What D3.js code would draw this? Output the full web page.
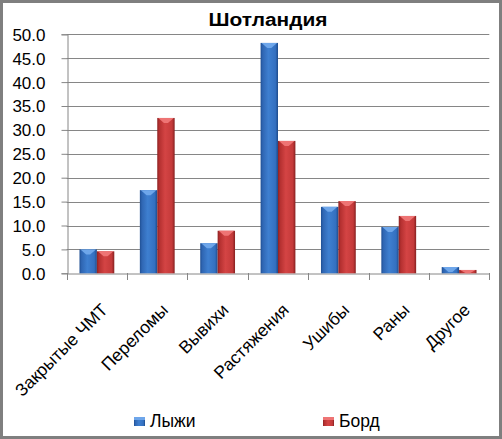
<!DOCTYPE html>
<html><head><meta charset="utf-8">
<script src="https://cdn.jsdelivr.net/npm/d3@7"></script>
<style>body{margin:0;background:#fff}svg{display:block;font-family:"Liberation Sans",Arial,sans-serif}</style>
</head><body><svg id="c" width="502" height="439"></svg>
<script>
const title = "Шотландия";
const categories = ["Закрытые ЧМТ","Переломы","Вывихи","Растяжения","Ушибы","Раны","Другое"];
const seriesNames = ["Лыжи","Борд"];
const skiValues = [5.0, 17.4, 6.3, 48.2, 13.9, 9.7, 1.3];
const boardValues = [4.6, 32.5, 8.9, 27.7, 15.1, 12.0, 0.7];
const yTicks = [0,5,10,15,20,25,30,35,40,45,50];

const svg = d3.select("#c");
const W = 502, H = 439;
const L = 66.7, R = 489.3, T = 34.3, B = 273.3;

const defs = svg.append("defs");
function grad(id, stops){
  const g = defs.append("linearGradient").attr("id", id).attr("x1","0").attr("x2","1").attr("y1","0").attr("y2","0");
  stops.forEach(s => g.append("stop").attr("offset", s[0]).attr("stop-color", s[1]));
}
grad("gBlue", [[0,"#1f4f93"],[0.12,"#2f66b3"],[0.45,"#3e7fd0"],[0.85,"#3470c0"],[1,"#1d4a8a"]]);
grad("gRed", [[0,"#8e2222"],[0.12,"#b43030"],[0.45,"#d44444"],[0.85,"#c43a3a"],[1,"#862020"]]);
const colors = [{fill:"url(#gBlue)", top:"#6ea6ea"}, {fill:"url(#gRed)", top:"#ee7474"}];

svg.append("rect").attr("x",1.5).attr("y",1.5).attr("width",W-3).attr("height",H-3)
  .attr("fill","#fff").attr("stroke","#7f7f7f").attr("stroke-width",3);

svg.append("text").attr("x",268).attr("y",26).attr("text-anchor","middle")
  .attr("font-weight","bold").attr("font-size",18).attr("textLength",119).attr("lengthAdjust","spacingAndGlyphs")
  .text(title);

const x = d3.scaleBand().domain(categories).range([L, R]).paddingInner(0).paddingOuter(0);
const xi = d3.scaleBand().domain(seriesNames).range([0, x.bandwidth()]).paddingInner(0).paddingOuter(0.735);
const y = d3.scaleLinear().domain([0,50]).range([B, T]);

svg.append("g").selectAll("line").data(yTicks.filter(d=>d>0)).join("line")
  .attr("x1", L).attr("x2", R).attr("y1", d=>Math.round(y(d))+0.5).attr("y2", d=>Math.round(y(d))+0.5)
  .attr("stroke","#868686").attr("stroke-width",1);

const yAxis = svg.append("g").attr("transform",`translate(${Math.round(L)+0.5},0)`)
  .call(d3.axisLeft(y).tickValues(yTicks).tickSize(6).tickPadding(16).tickFormat(d3.format(".1f")));
yAxis.select(".domain").attr("stroke","#868686");
yAxis.selectAll(".tick line").attr("stroke","#868686");
yAxis.selectAll(".tick text").attr("font-size",17).attr("fill","#000").attr("font-family","Liberation Sans, Arial, sans-serif").attr("dy","0.35em");

const xAxis = svg.append("g").attr("transform",`translate(0,${Math.round(B)+0.5})`)
  .call(d3.axisBottom(x).tickSize(0).tickFormat(""));
xAxis.select(".domain").attr("stroke","#868686");
xAxis.selectAll(".tick").remove();
svg.append("g").selectAll("line").data(categories.concat(["__end"])).join("line")
  .attr("x1", (d,i)=>Math.round(L + i*x.step())+0.5).attr("x2",(d,i)=>Math.round(L + i*x.step())+0.5)
  .attr("y1", Math.round(B)).attr("y2", Math.round(B)+7).attr("stroke","#868686");

const data = categories.map((c,i)=>({c, vals:[skiValues[i], boardValues[i]]}));
const groups = svg.append("g").selectAll("g").data(data).join("g")
  .attr("transform", d=>`translate(${x(d.c)},0)`);
groups.each(function(d){
  const g = d3.select(this);
  d.vals.forEach((v,si)=>{
    const bx = xi(seriesNames[si]), bw = xi.bandwidth();
    const top = y(v), h = y(0) - top;
    g.append("rect").attr("x",bx).attr("y",top).attr("width",bw).attr("height",h).attr("fill",colors[si].fill);
    const bev = Math.min(5, h);
    g.append("path").attr("d",`M${bx+1},${top}L${bx+bw-1},${top}L${bx+bw/2+2},${top+bev}L${bx+bw/2-2},${top+bev}Z`)
      .attr("fill",colors[si].top);
  });
});

svg.append("g").selectAll("text").data(categories).join("text")
  .attr("transform", d=>`translate(${x(d)+x.bandwidth()/2+12},311) rotate(-45)`)
  .attr("text-anchor","end").attr("font-size",17.5).attr("fill","#000").text(d=>d);

const legX = [134, 323];
const leg = svg.append("g").selectAll("g").data(seriesNames).join("g")
  .attr("transform",(d,i)=>`translate(${legX[i]},417)`);
leg.append("rect").attr("width",11).attr("height",9).attr("fill",(d,i)=>colors[i].fill);
leg.append("rect").attr("width",11).attr("height",3).attr("fill",(d,i)=>colors[i].top);
leg.append("text").attr("x",16).attr("y",10).attr("font-size",17.5).attr("fill","#000").text(d=>d);
</script></body></html>
